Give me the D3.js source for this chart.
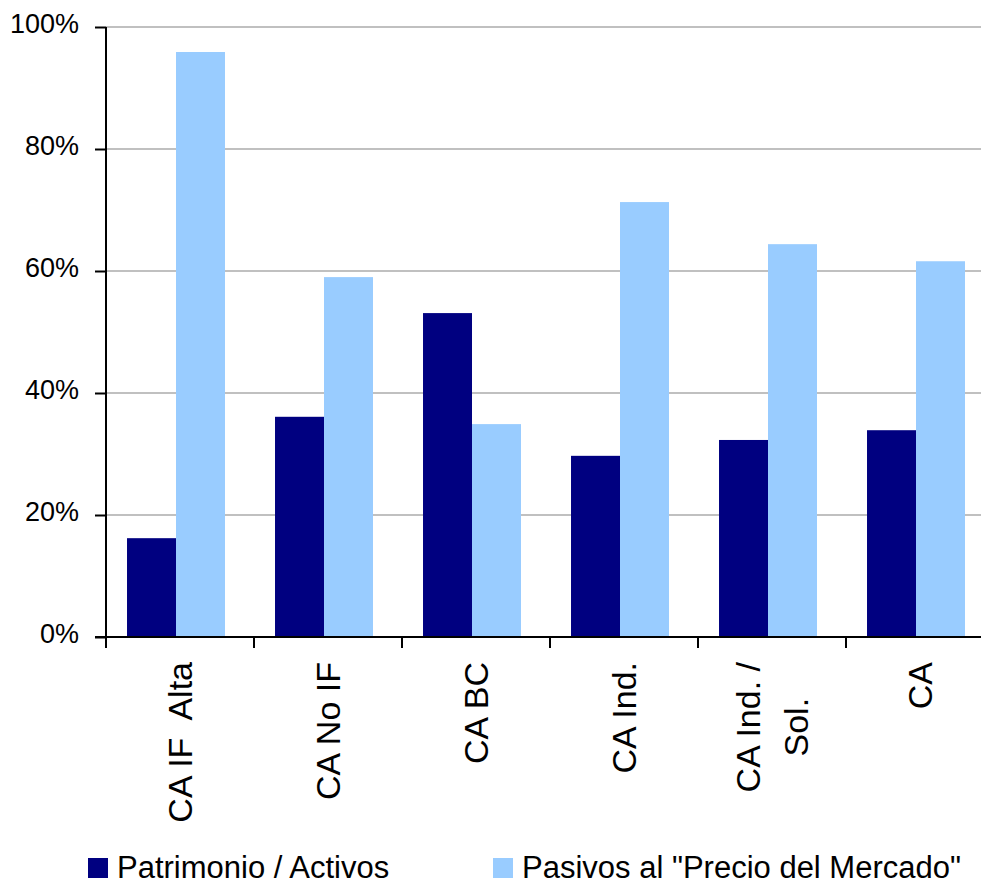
<!DOCTYPE html>
<html>
<head>
<meta charset="utf-8">
<script src="https://cdn.jsdelivr.net/npm/d3@7"></script>
<style>
  html, body { margin: 0; padding: 0; background: #fff; }
  svg { display: block; font-family: "Liberation Sans", Arial, sans-serif; }
  .xlab { white-space: pre; }
</style>
</head>
<body>
<script>
// data
var categories = ['CA IF  Alta', 'CA No IF', 'CA BC', 'CA Ind.', 'CA Ind. /\nSol.', 'CA'];
var seriesNames = ['Patrimonio / Activos', 'Pasivos al "Precio del Mercado"'];
var patrimonio = [16.2, 36.1, 53.1, 29.7, 32.3, 33.9];
var pasivos = [95.9, 59.0, 34.9, 71.3, 64.4, 61.6];
var yTicks = [0, 20, 40, 60, 80, 100];
var colors = ['#000080', '#99ccff'];

var W = 981, H = 881;
// plot box (right edge runs past the window, as in the original)
var plotL = 106, plotR = 994, plotT = 27, plotB = 637;

var svg = d3.select('body').append('svg')
    .attr('width', W)
    .attr('height', H);

var y = d3.scaleLinear().domain([0, 100]).range([plotB, plotT]);
var x0 = d3.scaleBand().domain(categories).range([plotL, plotR]).padding(0);
var bw = x0.bandwidth();
var x1 = d3.scaleBand().domain(seriesNames).range([bw * 0.142, bw * 0.804]).padding(0);

// gridlines
svg.append('g')
    .selectAll('line')
    .data(yTicks.filter(function (d) { return d > 0; }))
    .enter()
    .append('line')
    .attr('x1', plotL)
    .attr('x2', W)
    .attr('y1', function (d) { return y(d); })
    .attr('y2', function (d) { return y(d); })
    .attr('stroke', '#c0c0c0')
    .attr('stroke-width', 2);

// bars
var rows = categories.map(function (c, i) {
    return { cat: c, values: [patrimonio[i], pasivos[i]] };
});

var groups = svg.append('g')
    .selectAll('g')
    .data(rows)
    .enter()
    .append('g')
    .attr('transform', function (d) { return 'translate(' + x0(d.cat) + ',0)'; });

groups.selectAll('rect')
    .data(function (d) {
        return d.values.map(function (v, k) { return { s: seriesNames[k], v: v, k: k }; });
    })
    .enter()
    .append('rect')
    .attr('x', function (d) { return x1(d.s); })
    .attr('width', x1.bandwidth())
    .attr('y', function (d) { return y(d.v); })
    .attr('height', function (d) { return y(0) - y(d.v); })
    .attr('fill', function (d) { return colors[d.k]; });

// y axis
var yAxis = svg.append('g')
    .attr('transform', 'translate(' + plotL + ',0)')
    .call(d3.axisLeft(y)
        .tickValues(yTicks)
        .tickFormat(function (d) { return d + '%'; })
        .tickSize(11)
        .tickPadding(16));
yAxis.select('.domain').attr('stroke', '#000').attr('stroke-width', 2)
    .attr('d', 'M0,' + (plotB + 11) + 'V' + plotT);
yAxis.selectAll('.tick line').attr('stroke', '#000').attr('stroke-width', 2);
yAxis.selectAll('.tick text')
    .attr('fill', '#000')
    .attr('font-size', 27)
    .attr('font-family', '"Liberation Sans", Arial, sans-serif')
    .attr('dy', '0.22em');

// x axis line and tick marks at band edges
var xg = svg.append('g');
xg.append('line')
    .attr('x1', plotL - 11)
    .attr('x2', W)
    .attr('y1', plotB)
    .attr('y2', plotB)
    .attr('stroke', '#000')
    .attr('stroke-width', 2);
xg.selectAll('.xtick')
    .data(categories)
    .enter()
    .append('line')
    .attr('class', 'xtick')
    .attr('x1', function (d) { return x0(d); })
    .attr('x2', function (d) { return x0(d); })
    .attr('y1', plotB)
    .attr('y2', plotB + 11)
    .attr('stroke', '#000')
    .attr('stroke-width', 2);

// rotated category labels
var labelEnd = 662;
var lineGap = 48;
categories.forEach(function (c) {
    var lines = c.split('\n');
    var cx = x0(c) + bw / 2;
    var g = xg.append('g')
        .attr('transform', 'translate(' + cx + ',' + labelEnd + ') rotate(-90)');
    var texts = lines.map(function (ln, i) {
        return g.append('text')
            .attr('class', 'xlab')
            .attr('font-size', 34)
            .attr('fill', '#000')
            .attr('dy', '0.35em')
            .attr('y', (i - (lines.length - 1) / 2) * lineGap)
            .text(ln);
    });
    var maxLen = d3.max(texts, function (t) { return t.node().getComputedTextLength(); });
    texts.forEach(function (t) {
        t.attr('text-anchor', 'middle').attr('x', -maxLen / 2);
    });
});

// legend
var legendX = [88, 493];
var legend = svg.append('g')
    .selectAll('g')
    .data(seriesNames)
    .enter()
    .append('g')
    .attr('transform', function (d, i) { return 'translate(' + legendX[i] + ',858)'; });
legend.append('rect')
    .attr('width', 20)
    .attr('height', 20)
    .attr('fill', function (d, i) { return colors[i]; });
legend.append('text')
    .attr('x', 29)
    .attr('y', 20)
    .attr('font-size', 31)
    .attr('fill', '#000')
    .text(function (d) { return d; });
</script>
</body>
</html>
